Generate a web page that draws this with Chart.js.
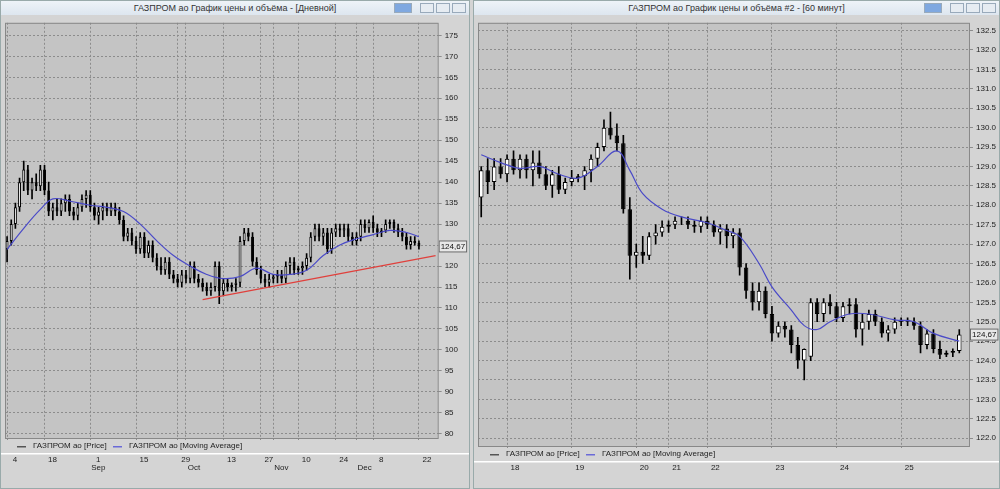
<!DOCTYPE html>
<html><head><meta charset="utf-8">
<script src="https://cdn.jsdelivr.net/npm/chart.js@4/dist/chart.umd.min.js"></script>
<style>
body{margin:0;background:#d4d4d4;font-family:"Liberation Sans",Arial,sans-serif;width:1000px;height:489px;overflow:hidden;position:relative}
.win{position:absolute;top:0;height:489px;background:#d4d4d4;border:1px solid #9aa;box-sizing:border-box}
.title{height:14px;background:linear-gradient(#eef3f8,#dde6ef);font-size:9px;color:#333;text-align:center;line-height:14px;position:relative}
.btns{position:absolute;right:3px;top:2px}
.btns span{display:inline-block;width:12px;height:8px;border:1px solid #9ab;margin-left:2px;background:#e6ecf2;vertical-align:top}
.btns span.a{background:#7fa8e0;width:16px;margin-right:6px}
.cw{position:absolute;left:0;top:14px;right:0;bottom:0}
</style></head><body>
<div class="win" style="left:0;width:470px"><div class="title">ГАЗПРОМ ао График цены и объёма - [Дневной]<div class="btns"><span class="a"></span><span></span><span></span><span></span></div></div><div class="cw"><canvas id="c1"></canvas></div></div>
<div class="win" style="left:473px;width:527px"><div class="title">ГАЗПРОМ ао График цены и объёма #2 - [60 минут]<div class="btns"><span class="a"></span><span></span><span></span><span></span></div></div><div class="cw"><canvas id="c2"></canvas></div></div>
<script>
// ---- Daily panel data (open, high, low, close) ----
const dOpen =[124,126,130,134,140,143,138,140,139,143,138,133,134,133,135,136,133,132,134,136,137,134,132,133,134,133,134,133,131,127,128,126,124,127,123,125,122,120,119,121,118,117,116,118,117,120,117,116,115,114,115,120,114,116,115,115.5,116,126,128,127,121,119,117,116,117,117.5,118,117,120,121,119,119.5,120,122,127,129,127,128,124,128,129,128.5,129,127,126,127,130,129,130.5,129,128,128.5,130,130.5,129,128,127,125,126,125.5];
const dHigh =[127,131,135,141,145,144,141,142,144,144,140,135,136,136,137,137,134,135,137,138,138,135,134,135,135,135,135,134,132,129,129,127,128,128,126,126,123,122,122,122,119,118,119,119,121,121,118,117,116,116,121,121,117,117,116,117,127,129,129,128,122,120,118,118,118,119,119,121,122,122,120,121,123,128,130,130,129,129,129,130,130,130,130,128,128,131,131,131,132,130,129,131,131,131,130,129,128,127,127,126];
const dLow  =[121,125,129,133,138,137,136,138,138,137,132,131,132,132,133,132,131,131,133,134,133,131,130,131,132,132,132,130,126,126,125,123,123,122,122,121,119,118,118,117,116,115,115,116,116,116,115,114,113,113,114,111,113,114,114,114,115,125,126,120,118,116,115,115,116,116,116,116,118,118,118,118,119,121,126,126,125,123,123,127,127,127,126,125,125,126,128,128,128,127,127,128,129,128,127,126,124,124,125,124];
const dClose=[126,130,134,140,143,138,140,139,143,138,133,134,133,135,136,133,132,134,136,137,134,132,133,134,133,134,133,131,127,128,126,124,127,123,125,122,120,119,121,118,117,116,118,117,120,117,116,115,114,115,120,114,116,115,115.5,116,126,128,127,121,119,117,116,117,117.5,118,117,120,121,119,119.5,120,122,127,129,127,128,124,128,129,128.5,129,127,126,127,130,129,130.5,129,128,128.5,130,130.5,129,128,127,125,126,125.5,124.67];
const dMA   =[124,null,null,null,129,null,null,null,133.5,null,null,136,null,null,null,135.5,null,null,null,null,134.5,null,null,null,134,null,null,null,133,null,null,null,130,null,null,null,126,null,null,null,122.5,null,null,null,120,null,null,null,118,null,null,null,117,null,null,null,117.5,null,null,null,119.5,null,null,null,118,null,null,null,118,null,null,null,119,null,null,null,122.5,null,null,null,125,null,null,null,126.5,null,null,null,127.5,null,null,null,128.5,null,null,null,128,null,null,127];
const dTrendIdx=[47,103], dTrendVal=[112,122.5];
const dTicks={0:'4',9:'18',20:['1','Sep'],31:'15',41:'29',43:['','Oct'],52:'13',61:'27',64:['','Nov'],70:'10',79:'24',84:['','Dec'],88:'8',99:'22'};
const dN=104, dYMin=79, dYMax=178, dYStep=5;
// ---- Hourly panel data ----
const hOpen =[128.2,128.9,128.6,129.0,128.8,129.2,128.9,129.2,128.9,129.1,128.8,128.5,128.8,128.4,128.6,128.7,128.75,128.9,129.2,129.5,130.0,129.8,129.6,127.9,126.7,126.8,126.7,127.2,127.3,127.45,127.5,127.6,127.6,127.5,127.45,127.6,127.5,127.3,127.4,127.2,127.3,126.4,125.8,125.5,125.8,125.2,124.7,124.9,124.8,124.4,124.0,124.1,125.5,125.2,125.5,125.4,125.1,125.4,125.45,124.8,125.0,125.2,125.0,124.7,124.8,125.0,125.05,125.0,124.9,124.4,124.7,124.3,124.15,124.2,124.25];
const hHigh =[129.0,129.2,129.2,129.2,129.3,129.4,129.3,129.3,129.4,129.4,129.0,128.9,129.0,128.7,128.9,128.8,129.0,129.3,129.6,130.2,130.4,130.1,129.8,128.2,127.0,127.2,127.3,127.5,127.6,127.6,127.7,127.7,127.7,127.6,127.7,127.7,127.6,127.5,127.5,127.4,127.4,126.5,126.0,126.0,125.9,125.4,125.0,125.0,124.9,124.6,124.3,125.6,125.6,125.6,125.7,125.5,125.5,125.6,125.6,125.2,125.3,125.3,125.1,124.9,125.1,125.1,125.1,125.1,125.0,124.8,124.8,124.5,124.25,124.3,124.8];
const hLow  =[127.7,128.3,128.4,128.7,128.6,128.8,128.7,128.7,128.5,128.7,128.4,128.2,128.3,128.3,128.5,128.6,128.4,128.6,129.0,129.4,129.7,129.4,127.8,126.1,126.4,126.5,126.6,127.0,127.2,127.3,127.4,127.5,127.4,127.3,127.3,127.4,127.2,127.0,126.9,126.9,126.2,125.6,125.3,125.3,125.1,124.5,124.6,124.6,124.2,123.8,123.5,124.0,125.0,125.0,125.2,125.0,125.0,125.2,124.6,124.4,124.8,124.9,124.6,124.5,124.7,124.9,124.9,124.8,124.2,124.3,124.2,124.05,124.1,124.1,124.2];
const hClose=[128.9,128.6,129.0,128.8,129.2,128.9,129.2,128.9,129.1,128.8,128.5,128.8,128.4,128.6,128.7,128.75,128.9,129.2,129.5,130.0,129.8,129.6,127.9,126.7,126.8,126.7,127.2,127.3,127.45,127.5,127.6,127.6,127.5,127.45,127.6,127.5,127.3,127.4,127.2,127.3,126.4,125.8,125.5,125.8,125.2,124.7,124.9,124.8,124.4,124.0,124.3,125.5,125.2,125.5,125.4,125.1,125.4,125.45,124.8,125.0,125.2,125.0,124.7,124.8,125.0,125.05,125.0,124.9,124.4,124.7,124.3,124.15,124.2,124.25,124.67];
const hMA   =[129.3,null,null,129.1,null,null,128.95,null,null,129.0,null,null,128.8,null,null,128.7,null,null,129.0,null,null,129.4,null,128.9,null,128.3,null,null,127.9,null,null,127.7,null,null,null,127.55,null,null,127.35,null,127.2,null,null,126.5,null,125.9,null,null,125.3,null,124.9,null,124.8,null,125.0,null,null,125.2,null,null,125.2,null,null,null,125.05,null,null,125.0,null,null,124.7,null,null,null,124.5];
const hTicks={4:'18',14:'19',24:'20',29:'21',35:'22',45:'23',55:'24',65:'25'};
const hN=76, hYMin=121.8, hYMax=132.7, hYStep=0.5;
const lastLabel='124,67';

function build(id,O,H,L,C,MA,ticks,N,ymin,ymax,step,dec,extra,rpad){
  const labels=[];for(let i=0;i<N;i++)labels.push(i);
  const body=O.map((o,i)=>[o,C[i]]), wick=L.map((l,i)=>[l,H[i]]);
  const fill=O.map((o,i)=>C[i]>=o?'#ffffff':'#000000');
  const ds=[
    {type:'line',data:MA,borderColor:'#4a4ac8',borderWidth:1.2,pointRadius:0,spanGaps:true,tension:0.4,order:0},
    {type:'bar',data:body,backgroundColor:fill,borderColor:'#000',borderWidth:1,borderSkipped:false,barPercentage:0.7,categoryPercentage:1,grouped:false,order:1},
    {type:'bar',data:wick,backgroundColor:'#000',barThickness:1,grouped:false,order:2}
  ];
  if(extra){const t=new Array(N).fill(null);extra[0].forEach((k,j)=>t[k]=extra[1][j]);
    ds.unshift({type:'line',data:t,borderColor:'#e0403c',borderWidth:1.2,pointRadius:0,spanGaps:true,order:0});}
  const deco={id:'deco',beforeDraw(ch){const a=ch.chartArea,c=ch.ctx;c.save();c.fillStyle='#c4c4c4';c.fillRect(a.left,a.top,a.right-a.left,a.bottom-a.top);c.restore();},
    afterDraw(ch){const a=ch.chartArea,c=ch.ctx;c.save();
      c.strokeStyle='#888';c.strokeRect(a.left+.5,a.top+.5,a.right-a.left,a.bottom-a.top);
      c.font='8px "Liberation Sans"';c.textBaseline='middle';
      const ly=a.bottom+8;
      c.fillStyle='#555';c.fillRect(a.left+12,ly,9,1.5);c.fillStyle='#222';c.fillText('ГАЗПРОМ ао [Price]',a.left+28,ly);
      c.fillStyle='#6a6ad8';c.fillRect(a.left+108,ly,9,1.5);c.fillStyle='#222';c.fillText('ГАЗПРОМ ао [Moving Average]',a.left+124,ly);
      c.fillStyle='#fff';c.fillRect(0,a.bottom+15,ch.width,1.5);
      const y=ch.scales.y.getPixelForValue(C[C.length-1]);
      const w=c.measureText(lastLabel).width+4;
      c.fillStyle='#e8e8e8';c.strokeStyle='#666';c.fillRect(a.right+1,y-6,w,12);c.strokeRect(a.right+1.5,y-5.5,w-1,11);
      c.fillStyle='#111';c.fillText(lastLabel,a.right+3,y);c.restore();}};
  new Chart(document.getElementById(id),{data:{labels,datasets:ds},plugins:[deco],
    options:{animation:false,responsive:true,maintainAspectRatio:false,
      layout:{padding:{top:2,left:4,right:rpad,bottom:0}},
      plugins:{legend:{display:false},tooltip:{enabled:false}},
      scales:{
        x:{type:'category',offset:true,grid:{offset:false,color:ctx=>ticks[ctx.index]!==undefined?'#8c8c8c':'transparent',drawTicks:true,tickLength:2},
          border:{display:false,dash:[2,2]},
          afterFit:s=>{s.paddingLeft=0;s.paddingRight=0;},
          ticks:{autoSkip:false,maxRotation:0,padding:16,labelOffset:8,font:{size:8,family:'Liberation Sans',lineHeight:1.0},color:'#222',callback:(v,i)=>ticks[i]!==undefined?ticks[i]:''}},
        y:{position:'right',min:ymin,max:ymax,grid:{color:'#8c8c8c',tickLength:4},border:{display:false,dash:[2,2]},
          afterBuildTicks:s=>{const t=[];for(let v=Math.ceil(ymin/step)*step;v<=ymax+1e-9;v+=step)t.push({value:+v.toFixed(2)});s.ticks=t;},
          ticks:{font:{size:8,family:'Liberation Sans'},color:'#222',padding:3,callback:v=>v.toFixed(dec)}}
      }}});
}
build('c1',dOpen,dHigh,dLow,dClose,dMA,dTicks,dN,dYMin,dYMax,dYStep,0,[dTrendIdx,dTrendVal],8);
build('c2',hOpen,hHigh,hLow,hClose,hMA,hTicks,hN,hYMin,hYMax,hYStep,1,null,0);
</script></body></html>
